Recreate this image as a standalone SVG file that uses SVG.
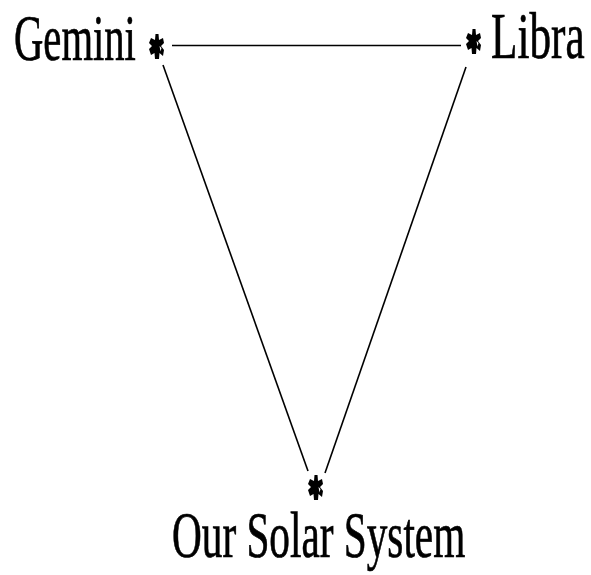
<svg xmlns="http://www.w3.org/2000/svg" width="591" height="575" viewBox="0 0 591 575">
<style>
.lbl{font-family:"Liberation Serif","Times New Roman",serif;font-size:66px;fill:#000;stroke:#000;stroke-width:0.7}
.edge{stroke:#000;stroke-width:1.6;fill:none}
</style>
<defs>
<g id="star">
<path d="M-1.5,-13 L1.5,-13 L2,-7 L6,-9 L7,-4 L4,-1 L7,3 L6,9 L2.5,6 L2,12 L-2,12 L-2.5,6 L-6,8 L-8,2 L-5,-1 L-8,-4 L-6,-9 L-2,-7 Z" fill="#000"/>
<path d="M2.5,-1 L4.5,1 L3.5,4.5 Z" fill="#fff"/>
</g>
</defs>
<rect width="591" height="575" fill="#fff"/>
<g id="connectors">
<line class="edge" x1="172" y1="45.5" x2="461" y2="45.5" stroke-width="2.2"/>
<line class="edge" x1="163" y1="65" x2="308" y2="471"/>
<line class="edge" x1="466" y1="67" x2="325" y2="473"/>
</g>
<g id="gemini">
<use href="#star" x="157" y="47"/>
<text class="lbl" transform="translate(14,60) scale(0.616,1)">Gemini</text>
</g>
<g id="libra">
<use href="#star" x="474" y="42"/>
<text class="lbl" transform="translate(491,58) scale(0.655,1)">Libra</text>
</g>
<g id="solar">
<use href="#star" x="316" y="488"/>
<text class="lbl" transform="translate(172,557) scale(0.625,1)">Our Solar System</text>
</g>
</svg>
